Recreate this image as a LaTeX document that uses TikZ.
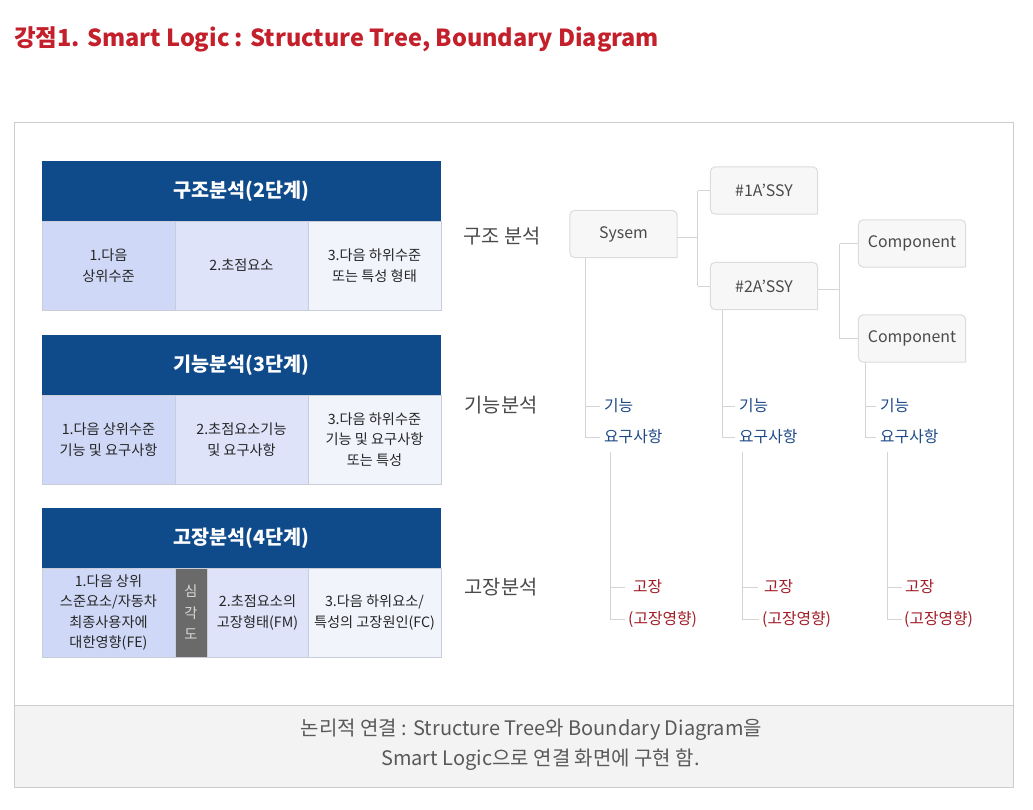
\documentclass[tikz,border=0pt]{standalone}
\usepackage{fontspec}
\setmainfont{Noto Sans CJK KR}
\definecolor{titlered}{HTML}{C4202B}
\definecolor{hdrblue}{HTML}{0F4A8B}
\definecolor{colA}{HTML}{CFD9F7}
\definecolor{colB}{HTML}{DEE3FA}
\definecolor{colC}{HTML}{F2F4FC}
\definecolor{cellline}{HTML}{C9CDD8}
\definecolor{sevgray}{HTML}{6A6A6A}
\definecolor{treeline}{HTML}{D4D4D4}
\definecolor{boxfill}{HTML}{F7F7F7}
\definecolor{boxline}{HTML}{DCDCDC}
\definecolor{fblue}{HTML}{1E4A86}
\definecolor{fred}{HTML}{A11D27}
\definecolor{lblgray}{HTML}{4A4A4A}
\definecolor{bandfill}{HTML}{F3F3F3}
\definecolor{frameline}{HTML}{CCCCCC}
\begin{document}
\begin{tikzpicture}[x=1pt,y=-1pt,
  hdr/.style={fill=hdrblue, text=white, minimum width=399pt, minimum height=60pt, inner sep=0pt,
    font=\fontsize{19.6}{22}\selectfont\bfseries},
  cellbox/.style={draw=cellline, line width=0.8pt, minimum height=89pt, inner sep=0pt, align=center,
    text=black!85, font=\fontsize{14.2}{20.5}\selectfont},
  treebox/.style={minimum width=107pt, minimum height=47pt, inner sep=0pt, text=lblgray,
    font=\fontsize{15.9}{18}\selectfont},
  lbl/.style={anchor=west, inner sep=0pt, text=lblgray, font=\fontsize{19.8}{22}\selectfont},
  fn/.style={anchor=west, inner sep=0pt, text=fblue, font=\fontsize{15.8}{17}\selectfont},
  fl/.style={anchor=west, inner sep=0pt, text=fred, font=\fontsize{15.8}{17}\selectfont},
  tline/.style={draw=treeline, line width=1pt},
  bline/.style={draw=boxline, fill=boxfill, line width=1pt, rounded corners=5pt}
]
\useasboundingbox (0,0) rectangle (1033,809);
\fill[white] (0,0) rectangle (1033,809);

% title
\node[anchor=base west, inner sep=0pt, text=titlered, font=\fontsize{23.5}{28}\selectfont\bfseries]
  (title) at (14,46) {강점1. Smart Logic : Structure Tree, Boundary Diagram};

% frame and band
\fill[bandfill] (14,705) rectangle (1013,787);
\draw[frameline, line width=1pt] (14,122) rectangle (1013,787);
\draw[frameline, line width=1pt] (14,705) -- (1013,705);
\node[text=black!65, font=\fontsize{20}{22}\selectfont, inner sep=0pt] (note1) at (531.5,730)
  {논리적 연결 : Structure Tree와 Boundary Diagram을};
\node[text=black!65, font=\fontsize{20}{22}\selectfont, inner sep=0pt] (note2) at (540.5,760)
  {Smart Logic으로 연결 화면에 구현 함.};

% table 1
\node[hdr] (h1) at (241.5,191) {구조분석(2단계)};
\node[cellbox, fill=colA, minimum width=133pt] (t1a) at (108.5,265.5) {1.다음\\상위수준};
\node[cellbox, fill=colB, minimum width=133pt] (t1b) at (241.5,265.5) {2.초점요소};
\node[cellbox, fill=colC, minimum width=133pt] (t1c) at (374.5,265.5) {3.다음 하위수준\\또는 특성 형태};

% table 2
\node[hdr] (h2) at (241.5,365) {기능분석(3단계)};
\node[cellbox, fill=colA, minimum width=133pt] (t2a) at (108.5,439.5) {1.다음 상위수준\\기능 및 요구사항};
\node[cellbox, fill=colB, minimum width=133pt] (t2b) at (241.5,439.5) {2.초점요소기능\\및 요구사항};
\node[cellbox, fill=colC, minimum width=133pt] (t2c) at (374.5,439.5) {3.다음 하위수준\\기능 및 요구사항\\또는 특성};

% table 3
\node[hdr] (h3) at (241.5,538) {고장분석(4단계)};
\node[cellbox, fill=colA, minimum width=133pt] (t3a) at (108.5,612.5) {1.다음 상위\\스준요소/자동차\\최종사용자에\\대한영향(FE)};
\node[cellbox, fill=sevgray, minimum width=32pt, text=white!85!black, font=\fontsize{14.2}{21.5}\selectfont] (t3s) at (191,612.5) {심\\각\\도};
\node[cellbox, fill=colB, minimum width=101pt] (t3b) at (257.5,612.5) {2.초점요소의\\고장형태(FM)};
\node[cellbox, fill=colC, minimum width=133pt] (t3c) at (374.5,612.5) {3.다음 하위요소/\\특성의 고장원인(FC)};

% row labels
\node[lbl] (L1) at (463.5,236) {구조 분석};
\node[lbl] (L2) at (464.5,405) {기능분석};
\node[lbl] (L3) at (464.5,587) {고장분석};

% tree boxes
\node[treebox] (sys) at (623.5,234) {Sysem};
\node[treebox] (a1) at (764,190.5) {\#1A’SSY};
\node[treebox] (a2) at (764,286) {\#2A’SSY};
\node[treebox] (c1) at (912,243.5) {Component};
\node[treebox] (c2) at (912,338.5) {Component};
\foreach \b in {sys,a1,a2,c1,c2}{
  \path[bline] (\b.south east) -- (\b.south west) -- (\b.north west) -- (\b.north east) -- (\b.south east);
}
\node[treebox] at (sys) {Sysem};
\node[treebox] at (a1) {\#1A’SSY};
\node[treebox] at (a2) {\#2A’SSY};
\node[treebox] at (c1) {Component};
\node[treebox] at (c2) {Component};

% structure connectors
\coordinate (j1) at (697.5,237);
\draw[tline] (sys.east |- j1) -- (j1);
\draw[tline] (j1 |- a1.west) -- (j1 |- a2.west);
\draw[tline] (j1 |- a1.west) -- (a1.west);
\draw[tline] (j1 |- a2.west) -- (a2.west);
\coordinate (j2) at (839.5,289);
\draw[tline] (a2.east |- j2) -- (j2);
\draw[tline] (j2 |- c1.west) -- (j2 |- c2.west);
\draw[tline] (j2 |- c1.west) -- (c1.west);
\draw[tline] (j2 |- c2.west) -- (c2.west);

% function nodes
\node[fn] (f1) at (604,406) {기능};
\node[fn] (r1) at (604,437) {요구사항};
\node[fn] (f2) at (739,406) {기능};
\node[fn] (r2) at (739,437) {요구사항};
\node[fn] (f3) at (880,406) {기능};
\node[fn] (r3) at (880,437) {요구사항};

\coordinate (v1) at (585,0);
\coordinate (v2) at (722,0);
\coordinate (v3) at (865,0);
\draw[tline] (sys.south -| v1) -- (r1.west -| v1) -- ([xshift=-4pt]r1.west);
\draw[tline] (f1.west -| v1) -- ([xshift=-4pt]f1.west);
\draw[tline] (a2.south -| v2) -- (r2.west -| v2) -- ([xshift=-4pt]r2.west);
\draw[tline] (f2.west -| v2) -- ([xshift=-4pt]f2.west);
\draw[tline] (c2.south -| v3) -- (r3.west -| v3) -- ([xshift=-4pt]r3.west);
\draw[tline] (f3.west -| v3) -- ([xshift=-4pt]f3.west);

% failure nodes
\node[fl] (e1) at (633,587) {고장};
\node[fl] (g1) at (628,619) {(고장영향)};
\node[fl] (e2) at (764,587) {고장};
\node[fl] (g2) at (762,619) {(고장영향)};
\node[fl] (e3) at (905,587) {고장};
\node[fl] (g3) at (904,619) {(고장영향)};

\coordinate (w1) at (610,452);
\coordinate (w2) at (742,452);
\coordinate (w3) at (887,452);
\draw[tline] (w1) -- (g1.west -| w1) -- ([xshift=-3pt]g1.west);
\draw[tline] (e1.west -| w1) -- ([xshift=-8pt]e1.west);
\draw[tline] (w2) -- (g2.west -| w2) -- ([xshift=-3pt]g2.west);
\draw[tline] (e2.west -| w2) -- ([xshift=-6pt]e2.west);
\draw[tline] (w3) -- (g3.west -| w3) -- ([xshift=-2pt]g3.west);
\draw[tline] (e3.west -| w3) -- ([xshift=-3pt]e3.west);
\end{tikzpicture}
\end{document}
